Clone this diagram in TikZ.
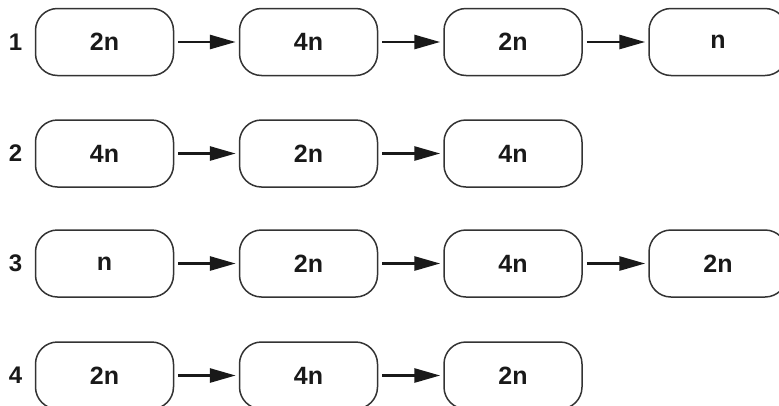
\documentclass[tikz,border=0pt]{standalone}
\usepackage{fontspec}
\setmainfont{Liberation Sans}
\usetikzlibrary{arrows.meta}
\tikzset{
  box/.style={draw=black!80, line width=1.5pt, rounded corners=22pt, minimum width=138pt, minimum height=67pt, inner sep=0pt, font=\fontsize{25pt}{25pt}\selectfont\bfseries, text=black!90},
  rowlabel/.style={font=\fontsize{24pt}{24pt}\selectfont\bfseries, text=black!90, inner sep=0pt},
  conn/.style={line width=2.8pt, black!90, -{Triangle[length=26pt,width=14pt]}, shorten <=4pt, shorten >=3pt}
}
\begin{document}
\begin{tikzpicture}[x=1pt,y=-1pt]
\useasboundingbox (0,0) rectangle (779,405);
\clip (0,0) rectangle (779,405);
% row labels
\foreach \r/\y in {1/42, 2/153.5, 3/263.5, 4/375.5} {
  \node[rowlabel] (lab\r) at (15.5,\y) {\r};
}
% Row 1
\node[box] (a1) at (104.5,42) {2n};
\node[box] (a2) at (308.5,42) {4n};
\node[box] (a3) at (513,42) {2n};
\node[box] (a4) at (718,42) {n};
\draw[conn] (a1) -- (a2);
\draw[conn] (a2) -- (a3);
\draw[conn] (a3) -- (a4);
% Row 2
\node[box] (b1) at (104.5,153.5) {4n};
\node[box] (b2) at (308.5,153.5) {2n};
\node[box] (b3) at (513,153.5) {4n};
\draw[conn] (b1) -- (b2);
\draw[conn] (b2) -- (b3);
% Row 3
\node[box] (c1) at (104.5,263.5) {n};
\node[box] (c2) at (308.5,263.5) {2n};
\node[box] (c3) at (513,263.5) {4n};
\node[box] (c4) at (718,263.5) {2n};
\draw[conn] (c1) -- (c2);
\draw[conn] (c2) -- (c3);
\draw[conn] (c3) -- (c4);
% Row 4
\node[box] (d1) at (104.5,375.5) {2n};
\node[box] (d2) at (308.5,375.5) {4n};
\node[box] (d3) at (513,375.5) {2n};
\draw[conn] (d1) -- (d2);
\draw[conn] (d2) -- (d3);
\end{tikzpicture}
\end{document}
